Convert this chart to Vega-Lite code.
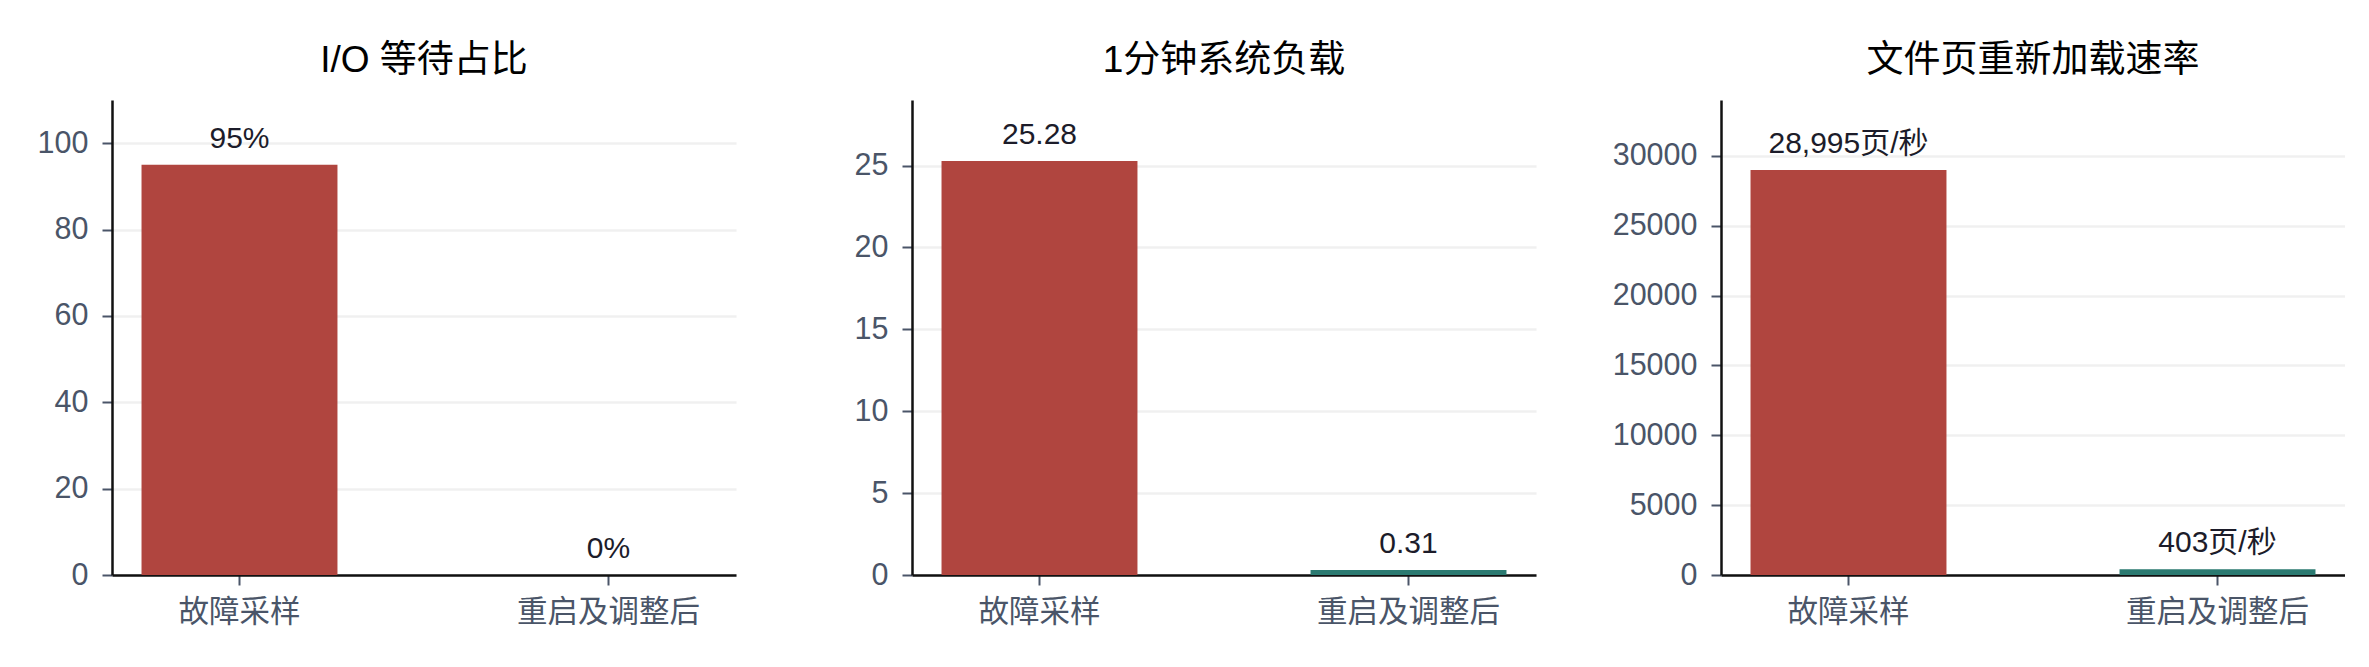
{
  "$schema": "https://vega.github.io/schema/vega-lite/v6.json",
  "background": "white",
  "padding": {"left": 12, "top": 42, "right": 0, "bottom": 0},
  "data": {
    "values": [
      {"panel": "io", "stage": "故障采样", "value": 95, "label": "95%"},
      {"panel": "io", "stage": "重启及调整后", "value": 0, "label": "0%"},
      {"panel": "load", "stage": "故障采样", "value": 25.28, "label": "25.28"},
      {"panel": "load", "stage": "重启及调整后", "value": 0.31, "label": "0.31"},
      {"panel": "reload", "stage": "故障采样", "value": 28995, "label": "28,995页/秒"},
      {"panel": "reload", "stage": "重启及调整后", "value": 403, "label": "403页/秒"}
    ]
  },
  "spacing": 76,
  "hconcat": [
    {
      "title": "I/O 等待占比",
      "width": 624,
      "height": 475,
      "transform": [{"filter": "datum.panel === 'io'"}],
      "encoding": {
        "x": {
          "field": "stage", "type": "nominal", "sort": ["故障采样", "重启及调整后"], "title": null,
          "scale": {"paddingInner": 0.469, "paddingOuter": 0.08},
          "axis": {"labelAngle": 0}
        },
        "y": {
          "field": "value", "type": "quantitative", "title": null,
          "scale": {"domain": [0, 110], "nice": false},
          "axis": {"values": [0, 20, 40, 60, 80, 100], "format": "d"}
        }
      },
      "layer": [
        {
          "mark": {"type": "bar"},
          "encoding": {
            "color": {
              "field": "stage", "type": "nominal", "legend": null,
              "scale": {"domain": ["故障采样", "重启及调整后"], "range": ["#b0453f", "#2b7a71"]}
            }
          }
        },
        {
          "mark": {"type": "text", "baseline": "alphabetic", "dy": -17, "fontSize": 30, "color": "#1c1c2a"},
          "encoding": {"text": {"field": "label"}}
        }
      ]
    },
    {
      "title": "1分钟系统负载",
      "width": 624,
      "height": 475,
      "transform": [{"filter": "datum.panel === 'load'"}],
      "encoding": {
        "x": {
          "field": "stage", "type": "nominal", "sort": ["故障采样", "重启及调整后"], "title": null,
          "scale": {"paddingInner": 0.469, "paddingOuter": 0.08},
          "axis": {"labelAngle": 0}
        },
        "y": {
          "field": "value", "type": "quantitative", "title": null,
          "scale": {"domain": [0, 29], "nice": false},
          "axis": {"values": [0, 5, 10, 15, 20, 25], "format": "d"}
        }
      },
      "layer": [
        {
          "mark": {"type": "bar"},
          "encoding": {
            "color": {
              "field": "stage", "type": "nominal", "legend": null,
              "scale": {"domain": ["故障采样", "重启及调整后"], "range": ["#b0453f", "#2b7a71"]}
            }
          }
        },
        {
          "mark": {"type": "text", "baseline": "alphabetic", "dy": -17, "fontSize": 30, "color": "#1c1c2a"},
          "encoding": {"text": {"field": "label"}}
        }
      ]
    },
    {
      "title": "文件页重新加载速率",
      "width": 624,
      "height": 475,
      "transform": [{"filter": "datum.panel === 'reload'"}],
      "encoding": {
        "x": {
          "field": "stage", "type": "nominal", "sort": ["故障采样", "重启及调整后"], "title": null,
          "scale": {"paddingInner": 0.469, "paddingOuter": 0.08},
          "axis": {"labelAngle": 0}
        },
        "y": {
          "field": "value", "type": "quantitative", "title": null,
          "scale": {"domain": [0, 34000], "nice": false},
          "axis": {"values": [0, 5000, 10000, 15000, 20000, 25000, 30000], "format": "d"}
        }
      },
      "layer": [
        {
          "mark": {"type": "bar"},
          "encoding": {
            "color": {
              "field": "stage", "type": "nominal", "legend": null,
              "scale": {"domain": ["故障采样", "重启及调整后"], "range": ["#b0453f", "#2b7a71"]}
            }
          }
        },
        {
          "mark": {"type": "text", "baseline": "alphabetic", "dy": -17, "fontSize": 30, "color": "#1c1c2a"},
          "encoding": {"text": {"field": "label"}}
        }
      ]
    }
  ],
  "config": {
    "view": {"stroke": null},
    "font": "Liberation Sans, Noto Sans CJK SC, sans-serif",
    "text": {"font": "Liberation Sans, Noto Sans CJK SC, sans-serif"},
    "title": {
      "fontSize": 37, "fontWeight": "normal", "color": "#000000",
      "font": "Liberation Sans, Noto Sans CJK SC, sans-serif",
      "anchor": "middle", "frame": "group", "offset": 20
    },
    "axis": {
      "domainColor": "#111111", "domainWidth": 2.5,
      "tickColor": "#4a5568", "tickWidth": 2, "tickSize": 10,
      "labelColor": "#4a5568", "labelFontSize": 30.5, "labelLimit": 0,
      "labelFont": "Liberation Sans, Noto Sans CJK SC, sans-serif",
      "gridColor": "#f0f0f0", "gridWidth": 2.5
    },
    "axisX": {"grid": false, "labelPadding": 12},
    "axisY": {"grid": true, "labelPadding": 14, "minExtent": 100, "maxExtent": 100}
  }
}
